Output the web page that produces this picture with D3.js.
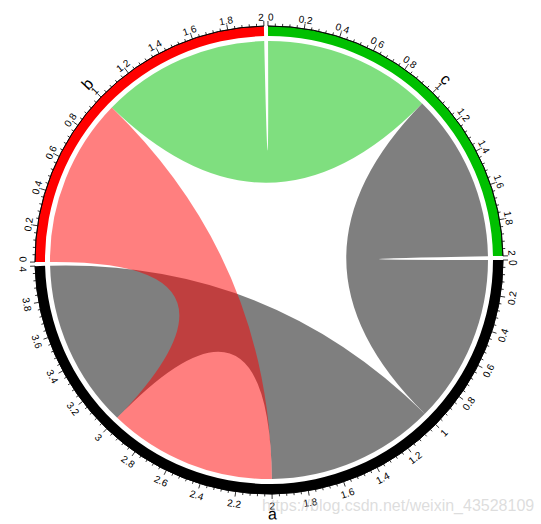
<!DOCTYPE html>
<html><head><meta charset="utf-8">
<script src="https://cdn.jsdelivr.net/npm/d3@7"></script>
<style>body{margin:0;background:#fff}svg{display:block}</style>
</head><body><svg id="c" width="541" height="524"></svg>
<script>
// ---- data ----
const sectors = ["a", "b", "c"];
const sectorMax = [4, 2, 2];
const sectorColors = ["#000000", "#FF0000", "#00C000"];
const linkFrom = ["a", "a", "b", "c"];
const linkFromRange = [[1, 2], [0, 1], [0, 1], [0, 1]];
const linkTo = ["a", "c", "a", "b"];
const linkToRange = [[3, 4], [1, 2], [2, 3], [1, 2]];
const majorStep = 0.2;
const minorPerMajor = 4;
const watermark = "https://blog.csdn.net/weixin_43528109";

// ---- layout ----
const cx = 269, cy = 260;
const rLink = 219, rIn = 224, rOut = 234;
const gap = Math.PI / 180;
const total = d3.sum(sectorMax);
const unit = (2 * Math.PI - sectors.length * gap) / total;
const scales = {};
let a0 = Math.PI / 2;
sectors.forEach((s, i) => {
  const a1 = a0 + sectorMax[i] * unit;
  scales[s] = d3.scaleLinear().domain([0, sectorMax[i]]).range([a0, a1]);
  a0 = a1 + gap;
});
const colorOf = {};
sectors.forEach((s, i) => colorOf[s] = sectorColors[i]);

const svg = d3.select("#c");
const g = svg.append("g").attr("transform", `translate(${cx},${cy})`);
const font = "'Liberation Sans', Arial, Helvetica, sans-serif";

// links
const ribbon = d3.ribbon().radius(rLink);
const links = linkFrom.map((f, i) => ({
  from: f,
  source: { startAngle: scales[f](linkFromRange[i][0]), endAngle: scales[f](linkFromRange[i][1]) },
  target: { startAngle: scales[linkTo[i]](linkToRange[i][0]), endAngle: scales[linkTo[i]](linkToRange[i][1]) }
}));
g.append("g").selectAll("path").data(links).join("path")
  .attr("d", ribbon)
  .attr("fill", d => colorOf[d.from])
  .attr("fill-opacity", 0.5);

// tracks
const arc = d3.arc().innerRadius(rIn).outerRadius(rOut);
g.append("g").selectAll("path").data(sectors).join("path")
  .attr("d", (s, i) => arc({ startAngle: scales[s](0), endAngle: scales[s](sectorMax[i]) }))
  .attr("fill", (s, i) => sectorColors[i]);

// axes
const pt = (a, r) => [r * Math.sin(a), -r * Math.cos(a)];
const axG = g.append("g");
function facing(a) {
  let deg = a * 180 / Math.PI;
  const m = ((deg % 360) + 360) % 360;
  const flip = m > 90.001 && m < 270;
  if (flip) deg += 180;
  return { deg, flip };
}
sectors.forEach((s, i) => {
  const sc = scales[s];
  const axisArc = d3.arc().innerRadius(rOut).outerRadius(rOut)({ startAngle: sc(0), endAngle: sc(sectorMax[i]) });
  axG.append("path").attr("d", axisArc).attr("fill", "none").attr("stroke", "#000").attr("stroke-width", 0.8);
  const step = majorStep / (minorPerMajor + 1);
  const n = Math.round(sectorMax[i] / step);
  const ticks = d3.range(n + 1).map(k => ({ v: k * step, k, major: k % (minorPerMajor + 1) === 0, first: k === 0, last: k === n }));
  axG.append("g").selectAll("line").data(ticks).join("line")
    .each(function (d) {
      const a = sc(d.v);
      const p1 = pt(a, rOut), p2 = pt(a, rOut + (d.major ? 5 : 2.5));
      d3.select(this).attr("x1", p1[0]).attr("y1", p1[1]).attr("x2", p2[0]).attr("y2", p2[1]);
    })
    .attr("stroke", "#000").attr("stroke-width", 0.8);
  const majors = ticks.filter(d => d.major);
  axG.append("g").selectAll("text").data(majors).join("text")
    .each(function (d) {
      const a = sc(d.v);
      const f = facing(a);
      const r = f.flip ? 246 : 243;
      const p = pt(a, r);
      let anchor = "middle";
      if (d.first) anchor = f.flip ? "end" : "start";
      if (d.last) anchor = f.flip ? "start" : "end";
      d3.select(this).attr("transform", `translate(${p[0]},${p[1]}) rotate(${f.deg})`)
        .attr("text-anchor", anchor);
    })
    .attr("dominant-baseline", "central")
    .attr("font-family", font).attr("font-size", 10).attr("fill", "#000")
    .text(d => String(Math.round(d.v * 10) / 10));
  // sector name
  const am = sc(sectorMax[i] / 2);
  const f = facing(am);
  const r = f.flip ? 254 : 253;
  const p = pt(am, r);
  axG.append("text").attr("transform", `translate(${p[0]},${p[1]}) rotate(${f.deg})`)
    .attr("text-anchor", "middle").attr("dominant-baseline", "central")
    .attr("font-family", font).attr("font-size", 16).attr("fill", "#000")
    .text(s);
});

// watermark
svg.append("text").attr("x", 262).attr("y", 511)
  .attr("font-family", font).attr("font-size", 16)
  .attr("fill", "#bbbbbb").attr("fill-opacity", 0.5)
  .text(watermark);
</script></body></html>
